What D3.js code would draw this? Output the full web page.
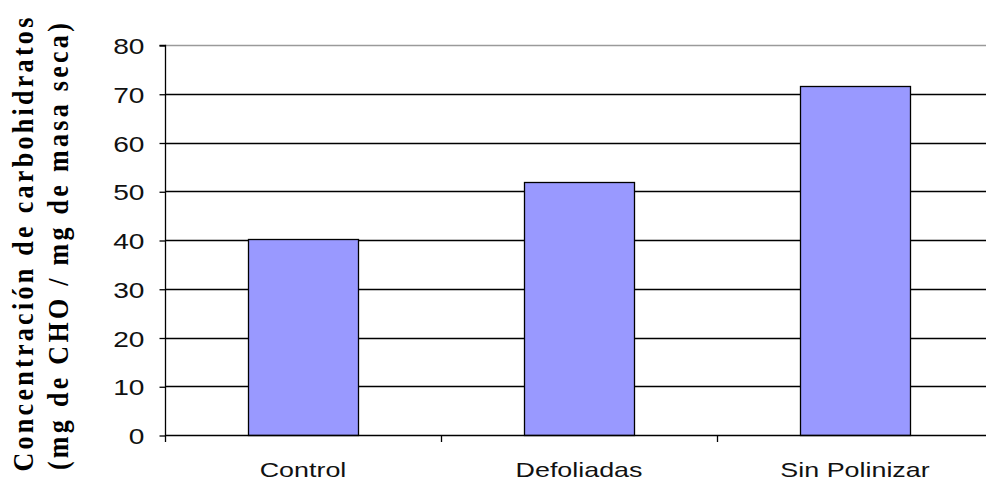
<!DOCTYPE html>
<html>
<head>
<meta charset="utf-8">
<script src="https://cdn.jsdelivr.net/npm/d3@7"></script>
<style>
  html, body { margin: 0; padding: 0; background: #fff; }
  svg { display: block; }
</style>
</head>
<body>
<svg id="chart" width="986" height="483"></svg>
<script>
// Carbohydrate concentration per treatment
const categories = ["Control", "Defoliadas", "Sin Polinizar"];
const values = [40.3, 51.8, 71.6];
const yTicks = [0, 10, 20, 30, 40, 50, 60, 70, 80];
const titleLines = ["Concentración de carbohidratos", "(mg de CHO / mg de masa seca)"];

const svg = d3.select("#chart");
const plot = { left: 165, right: 993, top: 45, bottom: 435 };
const labelFont = "'Liberation Sans', Arial, sans-serif";
const stretch = 1.28; // labels are drawn wide

const x = d3.scaleBand()
  .domain(categories)
  .range([plot.left, plot.right])
  .paddingInner(0.6)
  .paddingOuter(0.3);

const y = d3.scaleLinear()
  .domain([0, 80])
  .range([plot.bottom, plot.top]);

// Horizontal gridlines
svg.append("g")
  .selectAll("line")
  .data(yTicks.filter(d => d > 0))
  .join("line")
  .attr("x1", plot.left)
  .attr("x2", plot.right)
  .attr("y1", d => Math.round(y(d)) + 0.5)
  .attr("y2", d => Math.round(y(d)) + 0.5)
  .attr("stroke", d => d === 80 ? "#9a9a9a" : "#000")
  .attr("stroke-width", 1.3);

// Bars
svg.append("g")
  .selectAll("rect")
  .data(categories)
  .join("rect")
  .attr("x", d => Math.round(x(d)) + 0.5)
  .attr("y", (d, i) => Math.round(y(values[i])) + 0.5)
  .attr("width", Math.round(x.bandwidth()))
  .attr("height", (d, i) => Math.round(y(0)) - Math.round(y(values[i])))
  .attr("fill", "#9999ff")
  .attr("stroke", "#000")
  .attr("stroke-width", 1.3);

// Y axis
const yAxis = d3.axisLeft(y)
  .tickValues(yTicks)
  .tickSize(6)
  .tickFormat(d3.format("d"));

const yg = svg.append("g")
  .attr("transform", `translate(${plot.left + 0.5},0.5)`)
  .call(yAxis);
yg.select(".domain").attr("stroke", "#000").attr("stroke-width", 1.3)
  .attr("d", `M-6,${plot.top}H0V${plot.bottom}`);
yg.selectAll(".tick line").attr("stroke", "#000").attr("stroke-width", 1.3);
yg.selectAll(".tick text")
  .attr("x", null)
  .attr("dy", null)
  .attr("transform", `translate(-21,8) scale(${stretch},1)`)
  .attr("font-family", labelFont)
  .attr("font-size", 22)
  .attr("fill", "#111");

// X axis: ticks sit on category boundaries
const boundaries = [plot.left, ...categories.slice(1).map(c => x(c) - x.step() * x.paddingInner() / 2), plot.right];
const xg = svg.append("g");
xg.append("line")
  .attr("x1", plot.left)
  .attr("x2", plot.right)
  .attr("y1", plot.bottom + 0.5)
  .attr("y2", plot.bottom + 0.5)
  .attr("stroke", "#000")
  .attr("stroke-width", 1.3);
xg.selectAll("line.tk")
  .data(boundaries)
  .join("line")
  .attr("class", "tk")
  .attr("x1", d => Math.round(d) + 0.5)
  .attr("x2", d => Math.round(d) + 0.5)
  .attr("y1", plot.bottom)
  .attr("y2", plot.bottom + 7)
  .attr("stroke", "#000")
  .attr("stroke-width", 1.3);
xg.selectAll("text")
  .data(categories)
  .join("text")
  .attr("transform", d => `translate(${x(d) + x.bandwidth() / 2},477) scale(${stretch},1)`)
  .attr("text-anchor", "middle")
  .attr("font-family", labelFont)
  .attr("font-size", 21)
  .attr("fill", "#111")
  .text(d => d);

// Y axis title, two rotated lines
svg.append("g")
  .selectAll("text")
  .data(titleLines)
  .join("text")
  .attr("transform", (d, i) => `translate(${33 + i * 35},${243 + i * 2}) rotate(-90) scale(1,1.1)`)
  .attr("text-anchor", "middle")
  .attr("font-family", "'Liberation Serif', 'Times New Roman', serif")
  .attr("font-weight", "bold")
  .attr("font-size", 26)
  .attr("letter-spacing", 3.3)
  .attr("fill", "#000")
  .text(d => d);
</script>
</body>
</html>
